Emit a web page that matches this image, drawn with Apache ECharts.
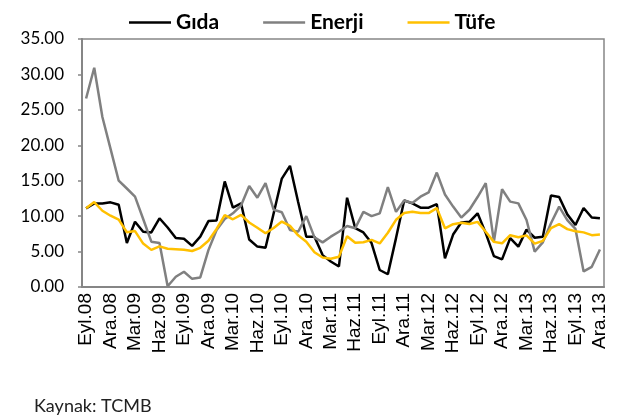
<!DOCTYPE html>
<html>
<head>
<meta charset="utf-8">
<script src="https://cdn.jsdelivr.net/npm/echarts@6/dist/echarts.min.js"></script>
<style>
  html, body { margin: 0; padding: 0; background: #fff; }
  #main { width: 620px; height: 416px; }
</style>
</head>
<body>
<div id="main"></div>
<script>
// aylar: Eyl.08 - Ara.13
const aylar = [
  'Eyl.08', 'Eki.08', 'Kas.08', 'Ara.08',
  'Oca.09', 'Şub.09', 'Mar.09', 'Nis.09', 'May.09', 'Haz.09', 'Tem.09', 'Ağu.09', 'Eyl.09', 'Eki.09', 'Kas.09', 'Ara.09',
  'Oca.10', 'Şub.10', 'Mar.10', 'Nis.10', 'May.10', 'Haz.10', 'Tem.10', 'Ağu.10', 'Eyl.10', 'Eki.10', 'Kas.10', 'Ara.10',
  'Oca.11', 'Şub.11', 'Mar.11', 'Nis.11', 'May.11', 'Haz.11', 'Tem.11', 'Ağu.11', 'Eyl.11', 'Eki.11', 'Kas.11', 'Ara.11',
  'Oca.12', 'Şub.12', 'Mar.12', 'Nis.12', 'May.12', 'Haz.12', 'Tem.12', 'Ağu.12', 'Eyl.12', 'Eki.12', 'Kas.12', 'Ara.12',
  'Oca.13', 'Şub.13', 'Mar.13', 'Nis.13', 'May.13', 'Haz.13', 'Tem.13', 'Ağu.13', 'Eyl.13', 'Eki.13', 'Kas.13', 'Ara.13'
];

const gida = [
  11.1, 11.8, 11.8, 11.95,
  11.6, 6.2, 9.2, 7.8, 7.7, 9.7, 8.4, 6.9, 6.8, 5.8, 7.1, 9.3,
  9.4, 14.9, 11.2, 11.8, 6.7, 5.7, 5.55, 10.4, 15.3, 17.1, 12.0, 7.1,
  7.1, 4.5, 3.6, 2.9, 12.6, 8.3, 7.7, 6.2, 2.4, 1.8, 6.9, 12.2,
  11.8, 11.2, 11.2, 11.7, 4.05, 7.4, 9.1, 9.2, 10.4, 7.6, 4.35, 3.9,
  6.9, 5.7, 8.1, 6.95, 7.1, 12.9, 12.7, 10.25, 8.75, 11.15, 9.8, 9.7
];

const enerji = [
  26.6, 30.95, 24.0, 19.5,
  15.0, 13.9, 12.75, 9.6, 6.4, 6.2, 0.1, 1.45, 2.15, 1.15, 1.35, 5.2,
  8.05, 9.6, 10.4, 11.5, 14.25, 12.6, 14.65, 10.9, 10.55, 8.05, 7.8, 10.0,
  7.0, 6.3, 7.1, 7.8, 8.6, 8.3, 10.6, 10.0, 10.4, 14.1, 10.6, 12.2,
  11.85, 12.75, 13.35, 16.15, 13.05, 11.35, 9.8, 10.9, 12.7, 14.65, 6.4, 13.8,
  12.05, 11.8, 9.45, 5.0, 6.3, 9.0, 11.35, 9.45, 8.2, 2.2, 2.85, 5.3
];

const tufe = [
  11.13, 11.99, 10.76, 10.06,
  9.50, 7.73, 7.89, 6.13, 5.24, 5.73, 5.39, 5.33, 5.27, 5.08, 5.53, 6.53,
  8.19, 10.13, 9.56, 10.19, 9.10, 8.37, 7.58, 8.33, 9.24, 8.62, 7.29, 6.40,
  4.90, 4.16, 3.99, 4.26, 7.17, 6.24, 6.31, 6.65, 6.15, 7.66, 9.48, 10.45,
  10.61, 10.43, 10.43, 11.14, 8.28, 8.87, 9.07, 8.88, 9.19, 7.80, 6.37, 6.16,
  7.31, 7.03, 7.29, 6.13, 6.51, 8.30, 8.88, 8.17, 7.88, 7.71, 7.32, 7.40
];

const eksenRengi = '#868686';

let option = {
  animation: false,
  backgroundColor: '#fff',
  title: {
    text: 'Kaynak: TCMB',
    left: 29,
    top: 392,
    textStyle: { fontFamily: 'Lato', fontSize: 18, fontWeight: 'normal', color: '#222' }
  },
  legend: {
    left: 124,
    top: 7,
    itemWidth: 42,
    itemHeight: 10,
    itemGap: 44,
    icon: 'path://M0,4 L42,4 L42,6.5 L0,6.5 Z',
    textStyle: { fontFamily: 'Lato', fontSize: 21, fontWeight: 'bold', color: '#000' },
    data: ['Gıda', 'Enerji', 'Tüfe']
  },
  grid: {
    left: 82,
    top: 39,
    right: 16,
    bottom: 129,
    show: true,
    borderColor: eksenRengi,
    borderWidth: 1.5
  },
  xAxis: {
    type: 'category',
    data: aylar,
    boundaryGap: true,
    axisLine: { lineStyle: { color: eksenRengi, width: 2 } },
    axisTick: { interval: 2, length: 5, lineStyle: { color: eksenRengi, width: 1.5 } },
    axisLabel: {
      interval: 2,
      rotate: 90,
      margin: 6,
      fontFamily: 'Liberation Sans',
      fontSize: 19,
      color: '#000'
    }
  },
  yAxis: {
    type: 'value',
    min: 0,
    max: 35,
    interval: 5,
    axisLine: { show: true, lineStyle: { color: eksenRengi, width: 2 } },
    axisTick: { show: true, length: 4, lineStyle: { color: eksenRengi, width: 1.5 } },
    splitLine: { show: false },
    axisLabel: {
      margin: 18,
      fontFamily: 'Lato',
      fontSize: 17,
      color: '#000',
      formatter: v => v.toFixed(2)
    }
  },
  series: [
    {
      name: 'Gıda',
      type: 'line',
      data: gida,
      showSymbol: false,
      color: '#000',
      lineStyle: { width: 2.5, color: '#000' }
    },
    {
      name: 'Enerji',
      type: 'line',
      data: enerji,
      showSymbol: false,
      color: '#808080',
      lineStyle: { width: 2.5, color: '#808080' }
    },
    {
      name: 'Tüfe',
      type: 'line',
      data: tufe,
      showSymbol: false,
      color: '#FFC000',
      lineStyle: { width: 2.5, color: '#FFC000' }
    }
  ]
};

let myChart = echarts.init(document.getElementById('main'));
myChart.setOption(option);
</script>
</body>
</html>
